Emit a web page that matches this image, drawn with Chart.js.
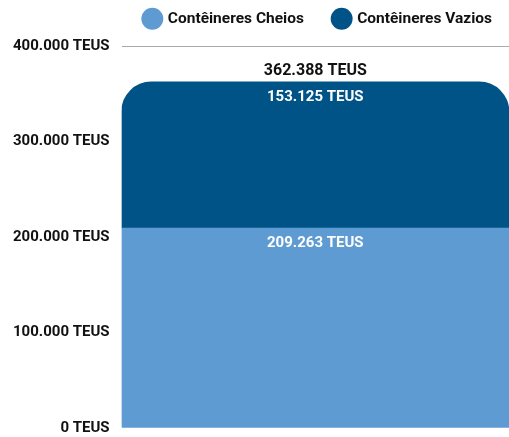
<!DOCTYPE html>
<html><head><meta charset="utf-8">
<script src="https://cdn.jsdelivr.net/npm/chart.js@4/dist/chart.umd.min.js"></script>
<style>html,body{margin:0;padding:0;background:#fff}#wrap{width:509px;height:437px}</style>
</head><body><div id="wrap"><canvas id="c" width="509" height="437"></canvas></div>
<script>
const categories = ['Total'];
const seriesNames = ['Contêineres Cheios', 'Contêineres Vazios'];
const cheios = [209263];
const vazios = [153125];
const yTicks = [0, 100000, 200000, 300000, 400000];

const fmt = v => v.toLocaleString('de-DE') + ' TEUS';

const labelsPlugin = {
  id: 'labels',
  afterDatasetsDraw(chart) {
    const ctx = chart.ctx;
    ctx.save();
    ctx.textAlign = 'center';
    ctx.textBaseline = 'middle';
    const m0 = chart.getDatasetMeta(0), m1 = chart.getDatasetMeta(1);
    categories.forEach((c, i) => {
      const b0 = m0.data[i], b1 = m1.data[i];
      ctx.fillStyle = '#ffffff';
      ctx.font = 'bold 15px Roboto';
      ctx.fillText(fmt(cheios[i]), b0.x, b0.y + 15);
      ctx.fillText(fmt(vazios[i]), b1.x, b1.y + 15);
      ctx.fillStyle = '#111111';
      ctx.font = 'bold 16px Roboto';
      ctx.fillText(fmt(cheios[i] + vazios[i]), b1.x, b1.y - 11);
    });
    ctx.restore();
  }
};

const legendPatchPlugin = {
  id: 'legendPatch',
  beforeInit(chart) {
    const lg = chart.legend;
    if (lg) {
      const origFit = lg.fit.bind(lg);
      lg.fit = function () {
        this.maxWidth = 800;
        origFit();
        this.height = 65;
        this.minSize = {width: this.width, height: 65};
      };
      const origDraw = lg.draw.bind(lg);
      lg.draw = function () {
        const l = this.left, r = this.right, w = this.width;
        this.left = l - 27; this.right = r + 33; this.width = w + 60;
        origDraw();
        this.left = l; this.right = r; this.width = w;
      };
    }
  }
};

new Chart(document.getElementById('c'), {
  type: 'bar',
  data: {
    labels: categories,
    datasets: [
      { label: seriesNames[0], data: cheios, backgroundColor: '#5f9bd3', borderRadius: 0, borderSkipped: false,
        categoryPercentage: 1, barPercentage: 1 },
      { label: seriesNames[1], data: vazios, backgroundColor: '#005387',
        borderRadius: {topLeft: 30, topRight: 30, bottomLeft: 0, bottomRight: 0}, borderSkipped: false,
        categoryPercentage: 1, barPercentage: 1 }
    ]
  },
  options: {
    responsive: false,
    animation: false,
    layout: { padding: { top: -19, bottom: 9, left: 1, right: -6 } },
    plugins: {
      legend: {
        position: 'top',
        fullSize: false,
        labels: {
          usePointStyle: true, pointStyle: 'circle', boxWidth: 16, boxHeight: 16,
          color: '#111', font: { family: 'Roboto', weight: 'bold', size: 15.5 }, padding: 30
        }
      },
      tooltip: { enabled: false }
    },
    scales: {
      x: { stacked: true, display: false },
      y: {
        stacked: true, min: 0, max: 400000,
        afterBuildTicks: axis => { axis.ticks = yTicks.map(v => ({ value: v })); },
        afterFit: axis => { axis.paddingBottom = 0; },
        ticks: { callback: v => fmt(v), color: '#111', font: { family: 'Roboto', weight: 'bold', size: 15 }, padding: 12 },
        grid: { color: c => (c.tick && c.tick.value === 0) ? 'rgba(0,0,0,0)' : '#aaaaaa', drawTicks: false, lineWidth: 1 },
        border: { display: false }
      }
    }
  },
  plugins: [legendPatchPlugin, labelsPlugin]
});
</script></body></html>
